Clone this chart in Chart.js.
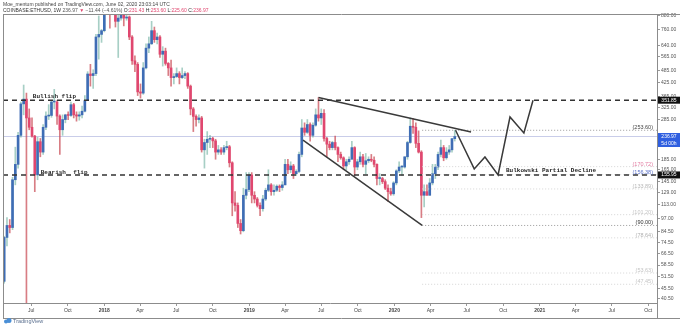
<!DOCTYPE html>
<html>
<head>
<meta charset="utf-8">
<script src="https://cdn.jsdelivr.net/npm/chart.js@4.4.0/dist/chart.umd.min.js"></script>
<style>
  html, body { margin: 0; padding: 0; background: #fff; overflow: hidden; }
</style>
</head>
<body>
<canvas id="eth-chart" width="680" height="326"></canvas>
<script>
// ETHUSD weekly candles (Coinbase), one per week starting on firstWeek
const firstWeek = '2017-04-24';
const opens = [49,79,90,88,148,175,240,338,356,290,
  262,238,156,224,200,262,296,298,345,345,
  296,255,285,300,298,335,300,296,300,312,
  350,468,460,470,700,720,750,1150,1350,1050,
  1100,830,860,940,860,870,700,540,520,385,
  380,500,620,650,750,680,700,580,600,525,
  500,450,455,470,450,460,470,410,320,295,
  285,290,205,222,230,232,226,200,205,200,
  210,212,178,115,112,92,85,125,133,156,
  125,120,112,108,120,132,140,130,132,138,
  136,140,175,165,172,158,162,195,260,248,
  270,240,268,300,290,305,232,218,210,222,
  210,195,188,172,180,185,210,170,180,190,
  175,182,185,183,175,150,150,145,135,130,
  127,143,163,170,170,190,222,265,262,220,
  200,125,130,125,143,158,170,195,210,188,
  200,205,231.43];
const highs = [80,98,96,152,211,248,345,415,380,320,
  290,240,235,232,270,310,335,350,396,350,
  300,300,302,310,345,340,310,310,330,370,
  480,520,490,720,880,760,1180,1420,1380,1150,
  1250,890,960,950,890,880,710,570,530,420,
  530,650,700,830,780,730,710,630,620,530,
  545,470,500,480,500,480,475,415,325,300,
  300,295,230,250,240,235,230,215,210,215,
  225,215,180,130,115,96,135,160,160,160,
  130,122,115,125,135,165,142,140,140,140,
  145,185,185,180,175,165,200,285,275,285,
  275,275,320,362,320,318,235,225,225,238,
  212,200,190,185,190,225,212,185,200,195,
  197,190,195,190,176,158,152,148,140,135,
  145,165,180,172,190,225,290,288,275,252,
  203,140,140,150,175,175,200,228,215,210,
  215,232,253.60];
const lows = [48,72,83,86,140,168,235,300,0.1,255,
  235,130,148,190,195,255,285,292,320,270,
  195,240,275,285,295,290,280,283,290,310,
  350,410,400,460,550,660,740,1000,770,960,
  780,560,840,790,840,680,520,480,370,360,
  375,495,590,645,660,650,560,510,515,460,
  410,420,450,420,445,445,400,300,250,265,
  275,200,168,195,210,210,185,195,195,195,
  205,170,100,105,88,82,84,120,130,115,
  115,110,100,105,118,130,125,125,130,130,
  132,140,158,160,150,155,160,190,240,245,
  225,235,265,280,270,225,190,205,205,205,
  180,185,165,165,175,185,155,165,175,170,
  158,178,180,170,140,140,142,133,117,125,
  125,140,160,155,168,185,220,245,210,198,
  98,110,125,125,140,150,165,190,182,185,
  195,200,225.60];
const closes = [79,90,88,148,175,240,338,356,290,262,
  238,156,224,200,262,296,298,345,345,296,
  255,285,300,298,335,300,296,300,312,350,
  468,460,470,700,720,750,1150,1350,1050,1100,
  830,860,940,860,870,700,540,520,385,380,
  500,620,650,750,680,700,580,600,525,500,
  450,455,470,450,460,470,410,320,295,285,
  290,205,222,230,232,226,200,205,200,210,
  212,178,115,112,92,85,125,133,156,125,
  120,112,108,120,132,140,130,132,138,136,
  140,175,165,172,158,162,195,260,248,270,
  240,268,300,290,305,232,218,210,222,210,
  195,188,172,180,185,210,170,180,190,175,
  182,185,183,175,150,150,145,135,130,127,
  143,163,170,170,190,222,265,262,220,200,
  125,130,125,143,158,170,195,210,188,200,
  205,231.43,236.97];

// drawn levels and trend lines
const flipLevels = [351.85, 155.95];
const wedgeTopDates = ['2019-06-24', '2020-07-12'];
const wedgeTopValues = [362, 249];
const wedgeBottomDates = ['2019-05-16', '2020-03-11'];
const wedgeBottomValues = [228, 90];
const pathDates = ['2020-06-03','2020-07-20','2020-08-16','2020-09-18','2020-10-18','2020-11-22','2020-12-15'];
const pathValues = [253.6, 166.5, 189.7, 155.95, 293, 246, 351.85];
const fibStart = '2020-03-11';
const fibLevels = [253.60, 170.72, 156.38, 133.89, 101.20, 90.00, 78.64, 53.63, 47.45];

// axes
const yTicks = [880,760,640,565,485,425,365,325,285,185,165,145,129,113,97,84.5,74.5,66.5,58.5,51.5,45.5,40.5];
const xTickDates = ['2017-07-01','2017-10-01','2018-01-01','2018-04-01','2018-07-01','2018-10-01',
  '2019-01-01','2019-04-01','2019-07-01','2019-10-01','2020-01-01','2020-04-01',
  '2020-07-01','2020-10-01','2021-01-01','2021-04-01','2021-07-01','2021-10-01'];
const xTickLabels = ['Jul','Oct','2018','Apr','Jul','Oct','2019','Apr','Jul','Oct','2020','Apr','Jul','Oct','2021','Apr','Jul','Oct'];

const headerLine = 'Moe_mentum published on TradingView.com, June 02, 2020 23:03:14 UTC';
const symbolText = 'COINBASE:ETHUSD, 1W';
const changeText = '\u221211.44 (\u22124.61%)';
const countdownText = '5d 00h';

const dayOf = s => (Date.parse(s) - Date.UTC(2017, 0, 1)) / 864e5;
const weekDays = opens.map((o, i) => dayOf(firstWeek) + 7 * i);
const xMin = dayOf('2017-04-21');
const xMax = dayOf('2021-10-23');
const lastClose = closes[closes.length - 1];

const upColor = '#3f6db5';
const downColor = '#e0476f';
const isUp = i => closes[i] >= opens[i];

function pts(dates, values) {
    return dates.map((d, i) => ({ x: dayOf(d), y: values[i] }));
}

let datasets = [];
datasets.push({
    type: 'bar',
    data: weekDays.map((d, i) => ({ x: d, y: [lows[i], highs[i]] })),
    backgroundColor: weekDays.map((d, i) => isUp(i) ? 'rgba(80,160,140,0.5)' : 'rgba(200,70,80,0.7)'),
    barThickness: 1,
    grouped: false,
    order: 5,
    clip: 0
});
datasets.push({
    type: 'bar',
    data: weekDays.map((d, i) => ({ x: d, y: [opens[i], closes[i]] })),
    backgroundColor: weekDays.map((d, i) => isUp(i) ? upColor : downColor),
    barThickness: 2,
    minBarLength: 1,
    grouped: false,
    order: 4,
    clip: 0
});
// current price line
datasets.push({
    type: 'line',
    data: [{ x: xMin, y: lastClose }, { x: xMax, y: lastClose }],
    borderColor: '#c9cde9', borderWidth: 1, pointRadius: 0, order: 6, clip: 0
});
// fib levels
fibLevels.forEach((v, i) => {
    datasets.push({
        type: 'line',
        data: [{ x: dayOf(fibStart), y: v }, { x: xMax, y: v }],
        borderColor: (i === 0 || i === 5) ? '#999' : '#d4d4d4',
        borderWidth: 1, borderDash: [1, 2], pointRadius: 0, order: 3, clip: 0
    });
});
flipLevels.forEach(v => {
    datasets.push({
        type: 'line',
        data: [{ x: xMin, y: v }, { x: xMax, y: v }],
        borderColor: '#333', borderWidth: 1.6, borderDash: [5, 4], pointRadius: 0, order: 2, clip: 0
    });
});
[[wedgeTopDates, wedgeTopValues], [wedgeBottomDates, wedgeBottomValues], [pathDates, pathValues]].forEach(p => {
    datasets.push({
        type: 'line',
        data: pts(p[0], p[1]),
        borderColor: '#3a3a3a', borderWidth: 1.5, pointRadius: 0, tension: 0, order: 1, clip: 0
    });
});

const fibLabelColors = ['#444', '#e27aa0', '#5a70c8', '#b8b8b8', '#c4c4c4', '#333', '#b0b0b0', '#c4c4c4', '#c4c4c4'];

const tvPlugin = {
    id: 'tvPlugin',
    afterDatasetsDraw: function (chart) {
        let ctx = chart.ctx;
        let a = chart.chartArea;
        let x = chart.scales.x, y = chart.scales.y;
        ctx.save();
        ctx.beginPath();
        ctx.rect(a.left, a.top, a.right - a.left, a.bottom - a.top);
        ctx.clip();
        ctx.textBaseline = 'middle';
        ctx.textAlign = 'left';
        ctx.fillStyle = '#1e1e1e';
        ctx.font = 'bold 6px "Liberation Mono"';
        ctx.fillText('Bullish flip', x.getPixelForValue(dayOf('2017-07-05')), y.getPixelForValue(flipLevels[0]) - 4);
        ctx.fillText('Bearish  flip', x.getPixelForValue(dayOf('2017-07-25')), y.getPixelForValue(flipLevels[1]) - 2.5);
        ctx.fillText('Bulkowski Partial Decline', x.getPixelForValue(dayOf('2020-10-08')), y.getPixelForValue(flipLevels[1]) - 4);
        ctx.font = '5.5px "Liberation Sans"';
        ctx.textAlign = 'right';
        fibLevels.forEach((v, i) => {
            ctx.fillStyle = fibLabelColors[i];
            ctx.fillText('(' + v.toFixed(2) + ')', a.right - 4, y.getPixelForValue(v) - 2.5);
        });
        ctx.restore();
    },
    afterDraw: function (chart) {
        let ctx = chart.ctx;
        let a = chart.chartArea;
        let y = chart.scales.y;
        ctx.save();
        // frame
        ctx.strokeStyle = '#8c8c8c';
        ctx.lineWidth = 1;
        ctx.beginPath();
        ctx.moveTo(3, a.top + 0.5); ctx.lineTo(680, a.top + 0.5);
        ctx.moveTo(3.5, a.top); ctx.lineTo(3.5, 318);
        ctx.moveTo(3, 318.5); ctx.lineTo(680, 318.5);
        ctx.moveTo(a.right + 0.5, a.top); ctx.lineTo(a.right + 0.5, 318);
        ctx.stroke();

        // price boxes on the axis
        let box = function (v, text, bg, dy) {
            let py = y.getPixelForValue(v) + (dy || 0);
            ctx.fillStyle = bg;
            ctx.fillRect(a.right + 1, py - 3.5, 22, 7);
            ctx.fillStyle = '#fff';
            ctx.font = '5px "Liberation Sans"';
            ctx.textAlign = 'center';
            ctx.textBaseline = 'middle';
            ctx.fillText(text, a.right + 12, py);
        };
        box(flipLevels[0], flipLevels[0].toFixed(2), '#111');
        box(flipLevels[1], flipLevels[1].toFixed(2), '#111');
        box(lastClose, lastClose.toFixed(2), '#2f5fe0');
        box(lastClose, countdownText, '#2f5fe0', 7);

        // header
        ctx.textAlign = 'left';
        ctx.textBaseline = 'middle';
        ctx.font = '5px "Liberation Sans"';
        ctx.fillStyle = '#444';
        ctx.fillText(headerLine, 3, 4.5);
        let segs = [
            [symbolText + ' ', '#333'],
            [lastClose.toFixed(2) + ' ', '#555'],
            ['\u25BC ', '#e0476f'],
            [changeText + ' ', '#555'],
            ['O:', '#333'], [opens[opens.length - 1].toFixed(2), '#e0476f'],
            [' H:', '#333'], [highs[highs.length - 1].toFixed(2), '#e0476f'],
            [' L:', '#333'], [lows[lows.length - 1].toFixed(2), '#e0476f'],
            [' C:', '#333'], [closes[closes.length - 1].toFixed(2), '#e0476f']
        ];
        let hx = 3;
        segs.forEach(s => {
            ctx.fillStyle = s[1];
            ctx.fillText(s[0], hx, 10.5);
            hx += ctx.measureText(s[0]).width;
        });

        // logo
        ctx.fillStyle = '#4a8fd6';
        ctx.beginPath();
        ctx.arc(6, 321.5, 2, 0, Math.PI * 2);
        ctx.arc(9, 320.5, 2.5, 0, Math.PI * 2);
        ctx.fill();
        ctx.fillStyle = '#5a6f8f';
        ctx.font = '5.5px "Liberation Sans"';
        ctx.fillText('TradingView', 13, 321.5);
        ctx.restore();
    }
};

let chart = new Chart(document.getElementById('eth-chart').getContext('2d'), {
    type: 'bar',
    data: { datasets: datasets },
    options: {
        responsive: false,
        animation: false,
        events: [],
        layout: { padding: { left: 3, top: 14, right: 0, bottom: 0 } },
        plugins: { legend: { display: false }, tooltip: { enabled: false } },
        scales: {
            x: {
                type: 'linear',
                min: xMin,
                max: xMax,
                offset: false,
                afterFit: function (scale) { scale.height = 23; },
                afterBuildTicks: function (scale) {
                    scale.ticks = xTickDates.map(d => ({ value: dayOf(d) }));
                },
                grid: { drawOnChartArea: false, offset: false, tickLength: 3, color: '#999' },
                border: { display: true, color: '#8c8c8c' },
                ticks: {
                    autoSkip: false,
                    maxRotation: 0,
                    padding: 2,
                    color: '#444',
                    font: function (c) {
                        return { size: 5, family: 'Liberation Sans', weight: /^\d{4}$/.test(xTickLabels[c.index]) ? 'bold' : 'normal' };
                    },
                    callback: function (v, i) { return xTickLabels[i]; }
                }
            },
            y: {
                type: 'logarithmic',
                position: 'right',
                min: 38.7,
                max: 899,
                afterFit: function (scale) { scale.width = 23; },
                afterBuildTicks: function (scale) {
                    scale.ticks = yTicks.map(v => ({ value: v }));
                },
                grid: { drawOnChartArea: false, tickLength: 3, color: '#999' },
                border: { display: true, color: '#8c8c8c' },
                ticks: {
                    autoSkip: false,
                    padding: 1,
                    color: '#555',
                    font: { size: 5, family: 'Liberation Sans' },
                    callback: function (v) { return Number(v).toFixed(2); }
                }
            }
        }
    },
    plugins: [tvPlugin]
});
</script>
</body>
</html>
